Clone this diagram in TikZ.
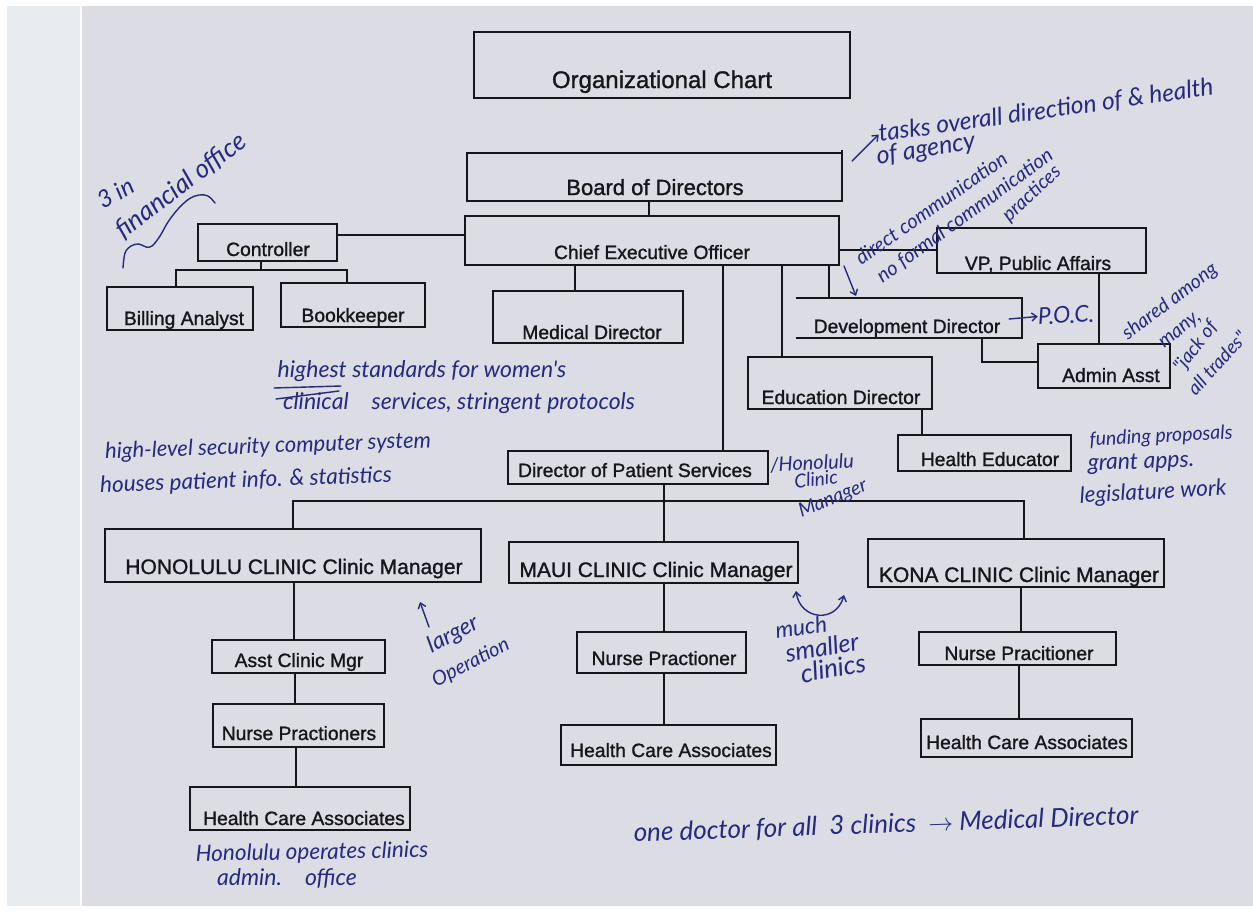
\documentclass[tikz,border=0pt]{standalone}
\usepackage{fontspec}
\setmainfont{Liberation Sans}
\newfontfamily\orgfont{Liberation Sans}[FakeBold=1.2]
\newfontfamily\handfont{Lato}
\usetikzlibrary{arrows.meta}

\definecolor{paper}{RGB}{219,220,228}
\definecolor{binding}{RGB}{232,236,238}
\definecolor{ink}{RGB}{36,42,126}
\definecolor{printk}{RGB}{22,22,24}

\tikzset{
  orgbox/.style={draw=printk, line width=2.1pt, inner sep=0pt, outer sep=0pt},
  openbox/.style={draw=none, inner sep=0pt, outer sep=0pt},
  orglabel/.style={text=printk, inner sep=0pt, anchor=base, font=\orgfont\fontsize{19.3}{21}\selectfont},
  biglabel/.style={orglabel, font=\orgfont\fontsize{#1}{#1}\selectfont},
  link/.style={draw=printk, line width=1.9pt},
  hand/.style={text=ink, inner sep=0pt, font=\handfont\itshape\fontsize{#1}{#1}\selectfont},
  hand/.default=22,
  pen/.style={draw=ink, line width=1.4pt, line cap=round, line join=round},
  pentip/.style={-{Straight Barb[length=5pt,width=8pt]}},
}

\begin{document}
\begin{tikzpicture}[x=1pt,y=-1pt]
\useasboundingbox (0,0) rectangle (1253,911);

% sheet of paper and binding strip
\fill[white] (0,0) rectangle (1253,911);
\fill[binding] (7,6) rectangle (80,906);
\fill[paper] (80,6) rectangle (1253,906);
\draw[white, line width=1.2pt] (81,6) -- (81,906);

% ---------- boxes ----------
\node[orgbox, minimum width=376pt, minimum height=66pt] (title) at (662,65) {};
\node[biglabel=24] (title-t) at (662,88) {Organizational Chart};

\node[orgbox, minimum width=375pt, minimum height=48pt] (board) at (654.5,177) {};
\draw[orgbox] (board.north east) -- ++(0,-3);
\node[biglabel=22] (board-t) at (655,195) {Board of Directors};

\node[orgbox, minimum width=374pt, minimum height=49pt] (ceo) at (652,240.5) {};
\node[orglabel] (ceo-t) at (652,259) {Chief Executive Officer};

\node[orgbox, minimum width=139pt, minimum height=37pt] (controller) at (267.5,242.5) {};
\node[orglabel] (controller-t) at (268,256) {Controller};

\node[orgbox, minimum width=146pt, minimum height=43pt] (billing) at (180,308.5) {};
\node[orglabel] (billing-t) at (184,325) {Billing Analyst};

\node[orgbox, minimum width=144pt, minimum height=44pt] (bookkeeper) at (353,305) {};
\node[orglabel] (bookkeeper-t) at (353,322) {Bookkeeper};

\node[orgbox, minimum width=190pt, minimum height=52pt] (meddir) at (588,317) {};
\node[orglabel] (meddir-t) at (592,339) {Medical Director};

\node[orgbox, minimum width=209pt, minimum height=45pt] (vp) at (1041.5,250.5) {};
\node[orglabel] (vp-t) at (1038,270) {VP, Public Affairs};

\node[openbox, minimum width=226pt, minimum height=40pt] (devdir) at (909,318) {};
\draw[orgbox] (devdir.north west) -- (devdir.north east) -- (devdir.south east) -- (devdir.south west);
\node[orglabel] (devdir-t) at (907,333) {Development Director};

\node[orgbox, minimum width=132pt, minimum height=44pt] (admin) at (1104,366) {};
\node[orglabel] (admin-t) at (1111,382) {Admin Asst};

\node[orgbox, minimum width=184pt, minimum height=52pt] (edudir) at (840,383) {};
\node[orglabel] (edudir-t) at (841,404) {Education Director};

\node[orgbox, minimum width=173pt, minimum height=36pt] (healthed) at (984.5,453) {};
\node[orglabel] (healthed-t) at (990,466) {Health Educator};

\node[orgbox, minimum width=260pt, minimum height=33pt] (dps) at (638,467.5) {};
\node[orglabel] (dps-t) at (635,477) {Director of Patient Services};

\node[orgbox, minimum width=376pt, minimum height=53pt] (hono) at (293,555.5) {};
\node[biglabel=21] (hono-t) at (294,574) {HONOLULU CLINIC Clinic Manager};

\node[orgbox, minimum width=173pt, minimum height=33pt] (asst) at (298.5,656.5) {};
\node[orglabel] (asst-t) at (299,667) {Asst Clinic Mgr};

\node[orgbox, minimum width=171pt, minimum height=43pt] (nursehono) at (298.5,725.5) {};
\node[orglabel] (nursehono-t) at (299,740) {Nurse Practioners};

\node[orgbox, minimum width=220pt, minimum height=43pt] (hcahono) at (300,808.5) {};
\node[orglabel] (hcahono-t) at (304,825) {Health Care Associates};

\node[orgbox, minimum width=289pt, minimum height=41pt] (maui) at (653.5,562.5) {};
\node[biglabel=21] (maui-t) at (656,577) {MAUI CLINIC Clinic Manager};

\node[orgbox, minimum width=169pt, minimum height=41pt] (nursemaui) at (661.5,652.5) {};
\node[orglabel] (nursemaui-t) at (664,665) {Nurse Practioner};

\node[orgbox, minimum width=215pt, minimum height=40pt] (hcamaui) at (668.5,745) {};
\node[orglabel] (hcamaui-t) at (671,757) {Health Care Associates};

\node[orgbox, minimum width=296pt, minimum height=48pt] (kona) at (1016,563) {};
\node[biglabel=21] (kona-t) at (1019,582) {KONA CLINIC Clinic Manager};

\node[orgbox, minimum width=197pt, minimum height=33pt] (nursekona) at (1017.5,648.5) {};
\node[orglabel] (nursekona-t) at (1019,660) {Nurse Pracitioner};

\node[orgbox, minimum width=211pt, minimum height=38pt] (hcakona) at (1026.5,738) {};
\node[orglabel] (hcakona-t) at (1027,749) {Health Care Associates};

% ---------- reporting lines ----------
\draw[link] (board.south -| 649,0) -- (ceo.north -| 649,0);
\draw[link] (controller.east |- 0,235) -- (ceo.west |- 0,235);
\draw[link] (ceo.east |- 0,250) -- (vp.west |- 0,250);

\coordinate (ctrlbus) at (261,270);
\coordinate (ctrlL) at (176,270);
\coordinate (ctrlR) at (347,270);
\draw[link] (controller.south -| ctrlbus) -- (ctrlbus);
\draw[link] (billing.north -| ctrlL) -- (ctrlL) -- (ctrlR) -- (bookkeeper.north -| ctrlR);

\draw[link] (ceo.south -| 575,0) -- (meddir.north -| 575,0);
\draw[link] (ceo.south -| 723,0) -- (dps.north -| 723,0);
\draw[link] (ceo.south -| 782,0) -- (edudir.north -| 782,0);
\draw[link] (ceo.south -| 829,0) -- (devdir.north -| 829,0);

\draw[link] (vp.south -| 1099,0) -- (admin.north -| 1099,0);
\coordinate (devbend) at (982,362);
\draw[link] (devdir.south -| devbend) -- (devbend) -- (admin.west |- devbend);
\draw[link] (edudir.south -| 922,0) -- (healthed.north -| 922,0);

\coordinate (pbusL) at (293,501);
\coordinate (pbusM) at (664,501);
\coordinate (pbusR) at (1024,501);
\draw[link] (dps.south -| pbusM) -- (pbusM);
\draw[link] (hono.north -| pbusL) -- (pbusL) -- (pbusR) -- (kona.north -| pbusR);
\draw[link] (pbusM) -- (maui.north -| pbusM);

\draw[link] (hono.south -| 294,0) -- (asst.north -| 294,0);
\draw[link] (asst.south -| 295,0) -- (nursehono.north -| 295,0);
\draw[link] (nursehono.south -| 296,0) -- (hcahono.north -| 296,0);

\draw[link] (maui.south -| 664,0) -- (nursemaui.north -| 664,0);
\draw[link] (nursemaui.south -| 664,0) -- (hcamaui.north -| 664,0);

\draw[link] (kona.south -| 1021,0) -- (nursekona.north -| 1021,0);
\draw[link] (nursekona.south -| 1019,0) -- (hcakona.north -| 1019,0);

% ---------- pen notes ----------
% financial office
\node[hand=24, rotate=30] (n-three) at (116,193) {3 in};
\node[hand=26, rotate=37] (n-fin) at (181,186) {financial office};
\draw[pen] plot[smooth, tension=0.6] coordinates {(123,268) (125,253) (131,246) (139,244) (146,247) (152,246) (160,236) (168,222) (178,209) (189,199) (199,195) (208,196) (215,203)};

% board note
\coordinate (boardnote) at (852,161);
\node[hand=24.5, rotate=8] (n-tasks) at (1046,111) {tasks overall direction of \& health};
\node[hand=25, rotate=9] (n-agency) at (926,150) {of agency};
\draw[pen, pentip] (boardnote) -- (n-tasks.west);

% communication note
\node[hand=20, rotate=35] (n-direct) at (931,208) {direct communication};
\node[hand=20, rotate=36] (n-formal) at (965,216) {no formal communication};
\node[hand=19.5, rotate=43] (n-pract) at (1032,194) {practices};
\coordinate (commtip) at (856,296);
\draw[pen, pentip] (844,266) -- (commtip);

% point of contact
\node[hand=23, rotate=3] (n-poc) at (1066,315) {P.O.C.};
\coordinate (poctail) at (1009,319);
\draw[pen, pentip] (poctail) -- (n-poc.west);

% admin note
\node[hand=19.5, rotate=37] (n-shared) at (1170,302) {shared among};
\node[hand=19.5, rotate=39] (n-many) at (1181,331) {many,};
\node[hand=19, rotate=52] (n-jack) at (1196,347) {"jack of};
\node[hand=19, rotate=48] (n-trades) at (1217,363) {all trades"};

% medical standards
\node[hand=23] (n-highest) at (422,371) {highest standards for women's};
\draw[pen] (274,388) -- (341,386);
\draw[pen] (276,399) -- (339,391);
\node[hand=23] (n-clinical) at (459,403) {clinical\quad services, stringent protocols};

% computer system
\node[hand=22, rotate=2] (n-security) at (268,447) {high-level security computer system};
\node[hand=22.5, rotate=2] (n-houses) at (246,481) {houses patient info. \& statistics};

% patient services
\node[hand=20, rotate=3] (n-hon) at (812,463) {/Honolulu};
\node[hand=19, rotate=6] (n-clin) at (816,479) {Clinic};
\node[hand=19.5, rotate=22] (n-mgr) at (833,499) {Manager};

% health educator
\node[hand=19.5, rotate=3] (n-funding) at (1161,437) {funding proposals};
\node[hand=23, rotate=2] (n-grant) at (1141,463) {grant apps.};
\node[hand=22.5, rotate=3] (n-legis) at (1153,493) {legislature work};

% honolulu clinic
\coordinate (largetip) at (420,602);
\node[hand=23, rotate=27] (n-larger) at (453,635) {larger};
\node[hand=20, rotate=27] (n-oper) at (471,663) {Operation};
\draw[pen, pentip] (429,627) -- (largetip);
\node[hand=22.5, rotate=1] (n-honops) at (312,853) {Honolulu operates clinics};
\node[hand=23] (n-adminoff) at (287,878) {admin.\quad office};

% small clinics
\coordinate (smallL) at (796,591);
\coordinate (smallR) at (844,595);
\draw[pen, {Straight Barb[length=5pt,width=8pt]}-{Straight Barb[length=5pt,width=8pt]}] (smallL) .. controls (800,620) and (836,624) .. (smallR);
\node[hand=22.5, rotate=8] (n-much) at (801,627) {much};
\node[hand=25, rotate=10] (n-smaller) at (822,647) {smaller};
\node[hand=26, rotate=10] (n-clinics) at (833,668) {clinics};

% doctor
\node[hand=26, rotate=2] (n-doctor) at (886,825) {one doctor for all \ 3 clinics \ $\rightarrow$ Medical Director};

\end{tikzpicture}
\end{document}
